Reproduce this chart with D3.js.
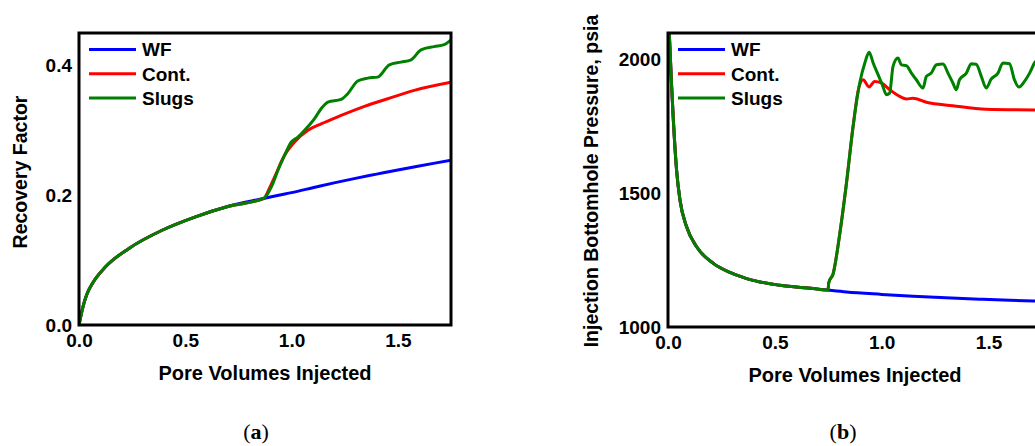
<!DOCTYPE html>
<html>
<head>
<meta charset="utf-8">
<script src="https://cdn.jsdelivr.net/npm/d3@7"></script>
<style>
  body { margin: 0; background: #fff; overflow: hidden; }
  text { font-family: "Liberation Sans", Arial, sans-serif; font-weight: bold; fill: #000; }
  .caption { font-family: "Liberation Serif", "DejaVu Serif", serif; font-weight: normal; }
</style>
</head>
<body>
<div id="fig"></div>
<script>
// ---- data (a) recovery factor ----
var seriesNames = ["WF", "Cont.", "Slugs"];
var seriesColors = ["#0000ff", "#ff0000", "#008000"];
var xTicks = [0, 0.5, 1.0, 1.5];

// shared part, before the polymer starts
var pvBaseA = [0, 0.008, 0.023, 0.039, 0.063, 0.125, 0.235, 0.391, 0.548, 0.704, 0.869];
var rfBase  = [0, 0.0128, 0.0333, 0.049, 0.064, 0.0897, 0.118, 0.146, 0.1667, 0.183, 0.195];

var pvWFA = [0.939, 1.0, 1.1, 1.2, 1.3, 1.4, 1.5, 1.6, 1.75];
var rfWF  = [0.200, 0.204, 0.2115, 0.219, 0.226, 0.2325, 0.239, 0.245, 0.254];

var pvContA = [0.895, 0.920, 0.967, 1.014, 1.077, 1.139, 1.233, 1.343, 1.452, 1.577, 1.75];
var rfCont  = [0.210, 0.228, 0.2615, 0.282, 0.300, 0.310, 0.323, 0.337, 0.3487, 0.3615, 0.374];

var pvSlugA = [0.905, 0.936, 0.967, 0.999, 1.030, 1.061, 1.108, 1.139, 1.171, 1.233, 1.264, 1.311,
               1.358, 1.405, 1.460, 1.515, 1.562, 1.609, 1.671, 1.718, 1.75];
var rfSlug  = [0.2128, 0.2385, 0.2615, 0.282, 0.2897, 0.300, 0.318, 0.3333, 0.3436, 0.3477, 0.3564, 0.376,
               0.3805, 0.382, 0.401, 0.4051, 0.4087, 0.424, 0.429, 0.432, 0.4395];
var rfTicks = [0, 0.2, 0.4];

// ---- data (b) injection pressure ----
var pvBaseB = [0, 0.006, 0.017, 0.025, 0.040, 0.056, 0.087, 0.134, 0.212, 0.290, 0.368, 0.523, 0.679, 0.749];
var pBase   = [2200, 2100, 1900, 1775, 1588, 1475, 1375, 1300, 1238, 1204, 1181, 1156, 1144, 1138];

var pvWFB = [0.835, 1.0, 1.147, 1.3, 1.458, 1.6, 1.75];
var pWF   = [1131, 1122, 1115, 1109, 1104, 1100, 1097];

// rise after the polymer reaches the injector
var pvRise = [0.752, 0.773, 0.804, 0.835, 0.866];
var pRise  = [1165, 1200, 1350, 1538, 1750];

var pvContB = [0.89, 0.913, 0.941, 0.967, 0.999, 1.037, 1.084, 1.115, 1.146, 1.209, 1.333, 1.489, 1.75];
var pCont   = [1885, 1925, 1898, 1919, 1913, 1888, 1863, 1853, 1856, 1841, 1828, 1815, 1812];

var pvSlugB = [0.897, 0.921, 0.941, 0.960, 0.983, 1.003, 1.022, 1.037, 1.053, 1.076, 1.092, 1.115, 1.139,
               1.162, 1.193, 1.209, 1.232, 1.256, 1.287, 1.310, 1.333, 1.349, 1.364, 1.396, 1.419, 1.442,
               1.466, 1.489, 1.512, 1.544, 1.567, 1.598, 1.621, 1.642, 1.668, 1.692, 1.715, 1.75];
var pSlug   = [1913, 1988, 2028, 1988, 1944, 1906, 1869, 1875, 1975, 2006, 1981, 1978, 1950,
               1925, 1894, 1938, 1950, 1981, 1984, 1950, 1913, 1888, 1925, 1950, 1985, 1983,
               1938, 1894, 1927, 1950, 1988, 1985, 1925, 1898, 1919, 1950, 1988, 2010];
var pTicks = [1000, 1500, 2000];

function zip(xs, ys) {
    return xs.map(function (x, i) { return { x: x, y: ys[i] }; });
}

var dataA = [
    zip(pvBaseA.concat(pvWFA), rfBase.concat(rfWF)),
    zip(pvBaseA.concat(pvContA), rfBase.concat(rfCont)),
    zip(pvBaseA.concat(pvSlugA), rfBase.concat(rfSlug))
];
var dataB = [
    zip(pvBaseB.concat(pvWFB), pBase.concat(pWF)),
    zip(pvBaseB.concat(pvRise, pvContB), pBase.concat(pRise, pCont)),
    zip(pvBaseB.concat(pvRise, pvSlugB), pBase.concat(pRise, pSlug))
];

var svg = d3.select("#fig").append("svg")
    .attr("width", 1035)
    .attr("height", 446);

function drawPanel(opt) {
    var width = opt.width, height = opt.height;
    var g = svg.append("g")
        .attr("transform", "translate(" + opt.left + "," + opt.top + ")");

    var x = d3.scaleLinear().domain([0, 1.75]).range([0, width]);
    var y = d3.scaleLinear().domain(opt.yDomain).range([height, 0]);

    g.append("clipPath").attr("id", opt.id + "-clip")
        .append("rect").attr("width", width).attr("height", height);

    var line = d3.line()
        .x(function (d) { return x(d.x); })
        .y(function (d) { return y(d.y); })
        .curve(d3.curveMonotoneX);

    g.append("g").attr("clip-path", "url(#" + opt.id + "-clip)")
        .selectAll("path")
        .data(opt.data)
        .enter().append("path")
        .attr("d", line)
        .attr("fill", "none")
        .attr("stroke", function (d, i) { return seriesColors[i]; })
        .attr("stroke-width", 3)
        .attr("stroke-linejoin", "round");

    // frame
    g.append("rect")
        .attr("width", width)
        .attr("height", height)
        .attr("fill", "none")
        .attr("stroke", "#000")
        .attr("stroke-width", 3);

    // axes (labels only)
    var xa = g.append("g")
        .attr("transform", "translate(0," + height + ")")
        .call(d3.axisBottom(x).tickValues(xTicks).tickFormat(d3.format(".1f")).tickSize(0).tickPadding(9));
    var ya = g.append("g")
        .call(d3.axisLeft(y).tickValues(opt.yTicks).tickFormat(opt.yFormat).tickSize(0).tickPadding(7));
    [xa, ya].forEach(function (a) {
        a.select(".domain").remove();
        a.selectAll("text").style("font-size", "19px").style("font-family", null);
    });

    // axis titles
    g.append("text")
        .attr("x", width / 2 + opt.xTitleShift)
        .attr("y", height + 55)
        .attr("text-anchor", "middle")
        .style("font-size", "20px")
        .text("Pore Volumes Injected");

    g.append("text")
        .attr("transform", "translate(" + opt.yTitleX + "," + opt.yTitleY + ") rotate(-90)")
        .attr("text-anchor", "middle")
        .style("font-size", "19.5px")
        .text(opt.yTitle);

    // legend
    var leg = g.selectAll(".leg")
        .data(seriesNames)
        .enter().append("g")
        .attr("class", "leg")
        .attr("transform", function (d, i) { return "translate(10," + (16.5 + i * 24.3) + ")"; });
    leg.append("line")
        .attr("x1", 0).attr("x2", 47)
        .attr("stroke", function (d, i) { return seriesColors[i]; })
        .attr("stroke-width", 3);
    leg.append("text")
        .attr("x", 53)
        .attr("dy", "0.36em")
        .style("font-size", "19px")
        .text(function (d) { return d; });

    // caption
    var cap = svg.append("text")
        .attr("class", "caption")
        .attr("x", opt.capX)
        .attr("y", 439)
        .attr("text-anchor", "middle")
        .style("font-size", "22px");
    cap.append("tspan").text("(");
    cap.append("tspan").style("font-weight", "bold").text(opt.cap);
    cap.append("tspan").text(")");
}

drawPanel({
    id: "a", left: 79, top: 33, width: 372, height: 292,
    yDomain: [0, 0.45], yTicks: rfTicks, yFormat: d3.format(".1f"),
    data: dataA, yTitle: "Recovery Factor",
    yTitleX: -52.5, yTitleY: 139, xTitleShift: 0, capX: 256, cap: "a"
});

drawPanel({
    id: "b", left: 668, top: 33, width: 374, height: 294,
    yDomain: [1000, 2100], yTicks: pTicks, yFormat: d3.format("d"),
    data: dataB, yTitle: "Injection Bottomhole Pressure, psia",
    yTitleX: -70, yTitleY: 148, xTitleShift: 0, capX: 843, cap: "b"
});
</script>
</body>
</html>
